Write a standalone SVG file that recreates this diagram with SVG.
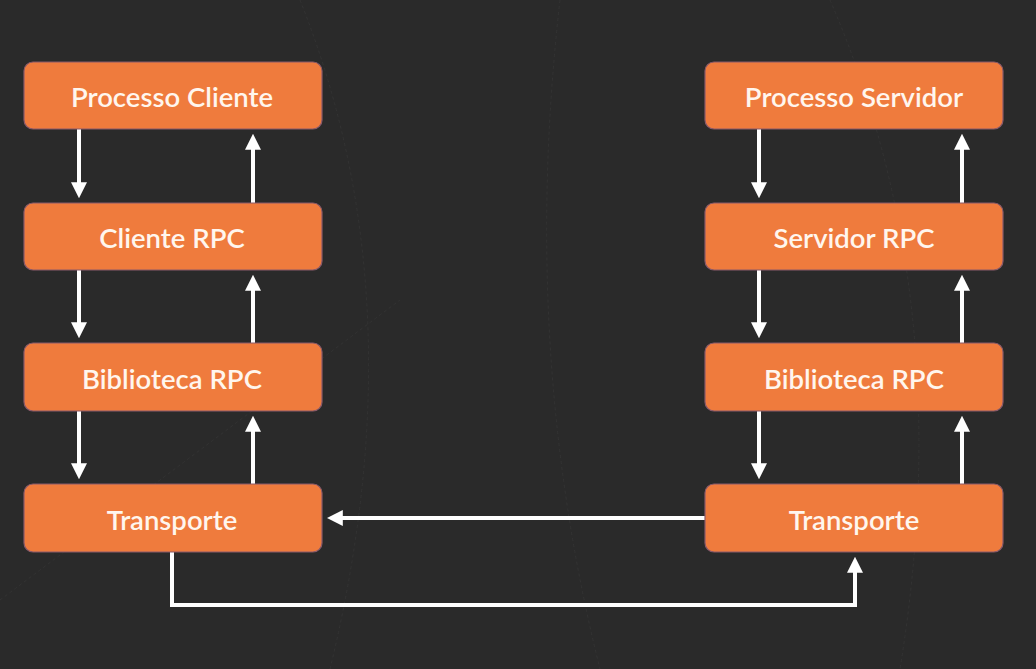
<svg xmlns="http://www.w3.org/2000/svg" width="1036" height="669" viewBox="0 0 1036 669">
<style>
.node rect{fill:#ef7b3d;stroke:#8a5a6a;stroke-width:1.2}
.node text{fill:#fff6ee;font-family:Lato,"Open Sans",sans-serif;font-size:27.5px;font-weight:600;text-anchor:middle;dominant-baseline:central}
.conn path{fill:none;stroke:#ffffff;stroke-width:4;marker-end:url(#ah)}
</style>
<defs>
<marker id="ah" markerWidth="4" markerHeight="4" refX="2.2" refY="2" orient="auto" markerUnits="strokeWidth" viewBox="0 0 4 4">
<path d="M0,0 L4,2 L0,4 Z" fill="#ffffff"/>
</marker>
</defs>
<rect width="1036" height="669" fill="#2a2a2a"/>
<g fill="none" stroke="#333333" stroke-width="1" stroke-dasharray="3 3">
<path d="M300,0 Q420,300 330,669"/>
<path d="M560,0 Q520,350 600,669"/>
<path d="M830,0 Q960,300 900,669"/>
<path d="M0,600 Q200,450 400,300"/>
</g>
<g class="conn">
<path d="M79,129 V191"/>
<path d="M253,203 V141"/>
<path d="M79,270 V331"/>
<path d="M253,343 V282"/>
<path d="M79,411 V472"/>
<path d="M253,484 V423"/>
<path d="M759,129 V191"/>
<path d="M962,203 V141"/>
<path d="M759,270 V331"/>
<path d="M962,343 V282"/>
<path d="M759,411 V472"/>
<path d="M962,484 V423"/>
<path d="M705,518 H334"/>
<path d="M172,552 V605 H855 V564"/>
</g>
<g id="processo-cliente" class="node"><rect x="24" y="62" width="298" height="67" rx="9"/><text x="172" y="96">Processo Cliente</text></g>
<g id="cliente-rpc" class="node"><rect x="24" y="203" width="298" height="67" rx="9"/><text x="172" y="237">Cliente RPC</text></g>
<g id="biblioteca-rpc-c" class="node"><rect x="24" y="343" width="298" height="68" rx="9"/><text x="172" y="378">Biblioteca RPC</text></g>
<g id="transporte-c" class="node"><rect x="24" y="484" width="298" height="68" rx="9"/><text x="172" y="519">Transporte</text></g>
<g id="processo-servidor" class="node"><rect x="705" y="62" width="298" height="67" rx="9"/><text x="854" y="96">Processo Servidor</text></g>
<g id="servidor-rpc" class="node"><rect x="705" y="203" width="298" height="67" rx="9"/><text x="854" y="237">Servidor RPC</text></g>
<g id="biblioteca-rpc-s" class="node"><rect x="705" y="343" width="298" height="68" rx="9"/><text x="854" y="378">Biblioteca RPC</text></g>
<g id="transporte-s" class="node"><rect x="705" y="484" width="298" height="68" rx="9"/><text x="854" y="519">Transporte</text></g>
</svg>
